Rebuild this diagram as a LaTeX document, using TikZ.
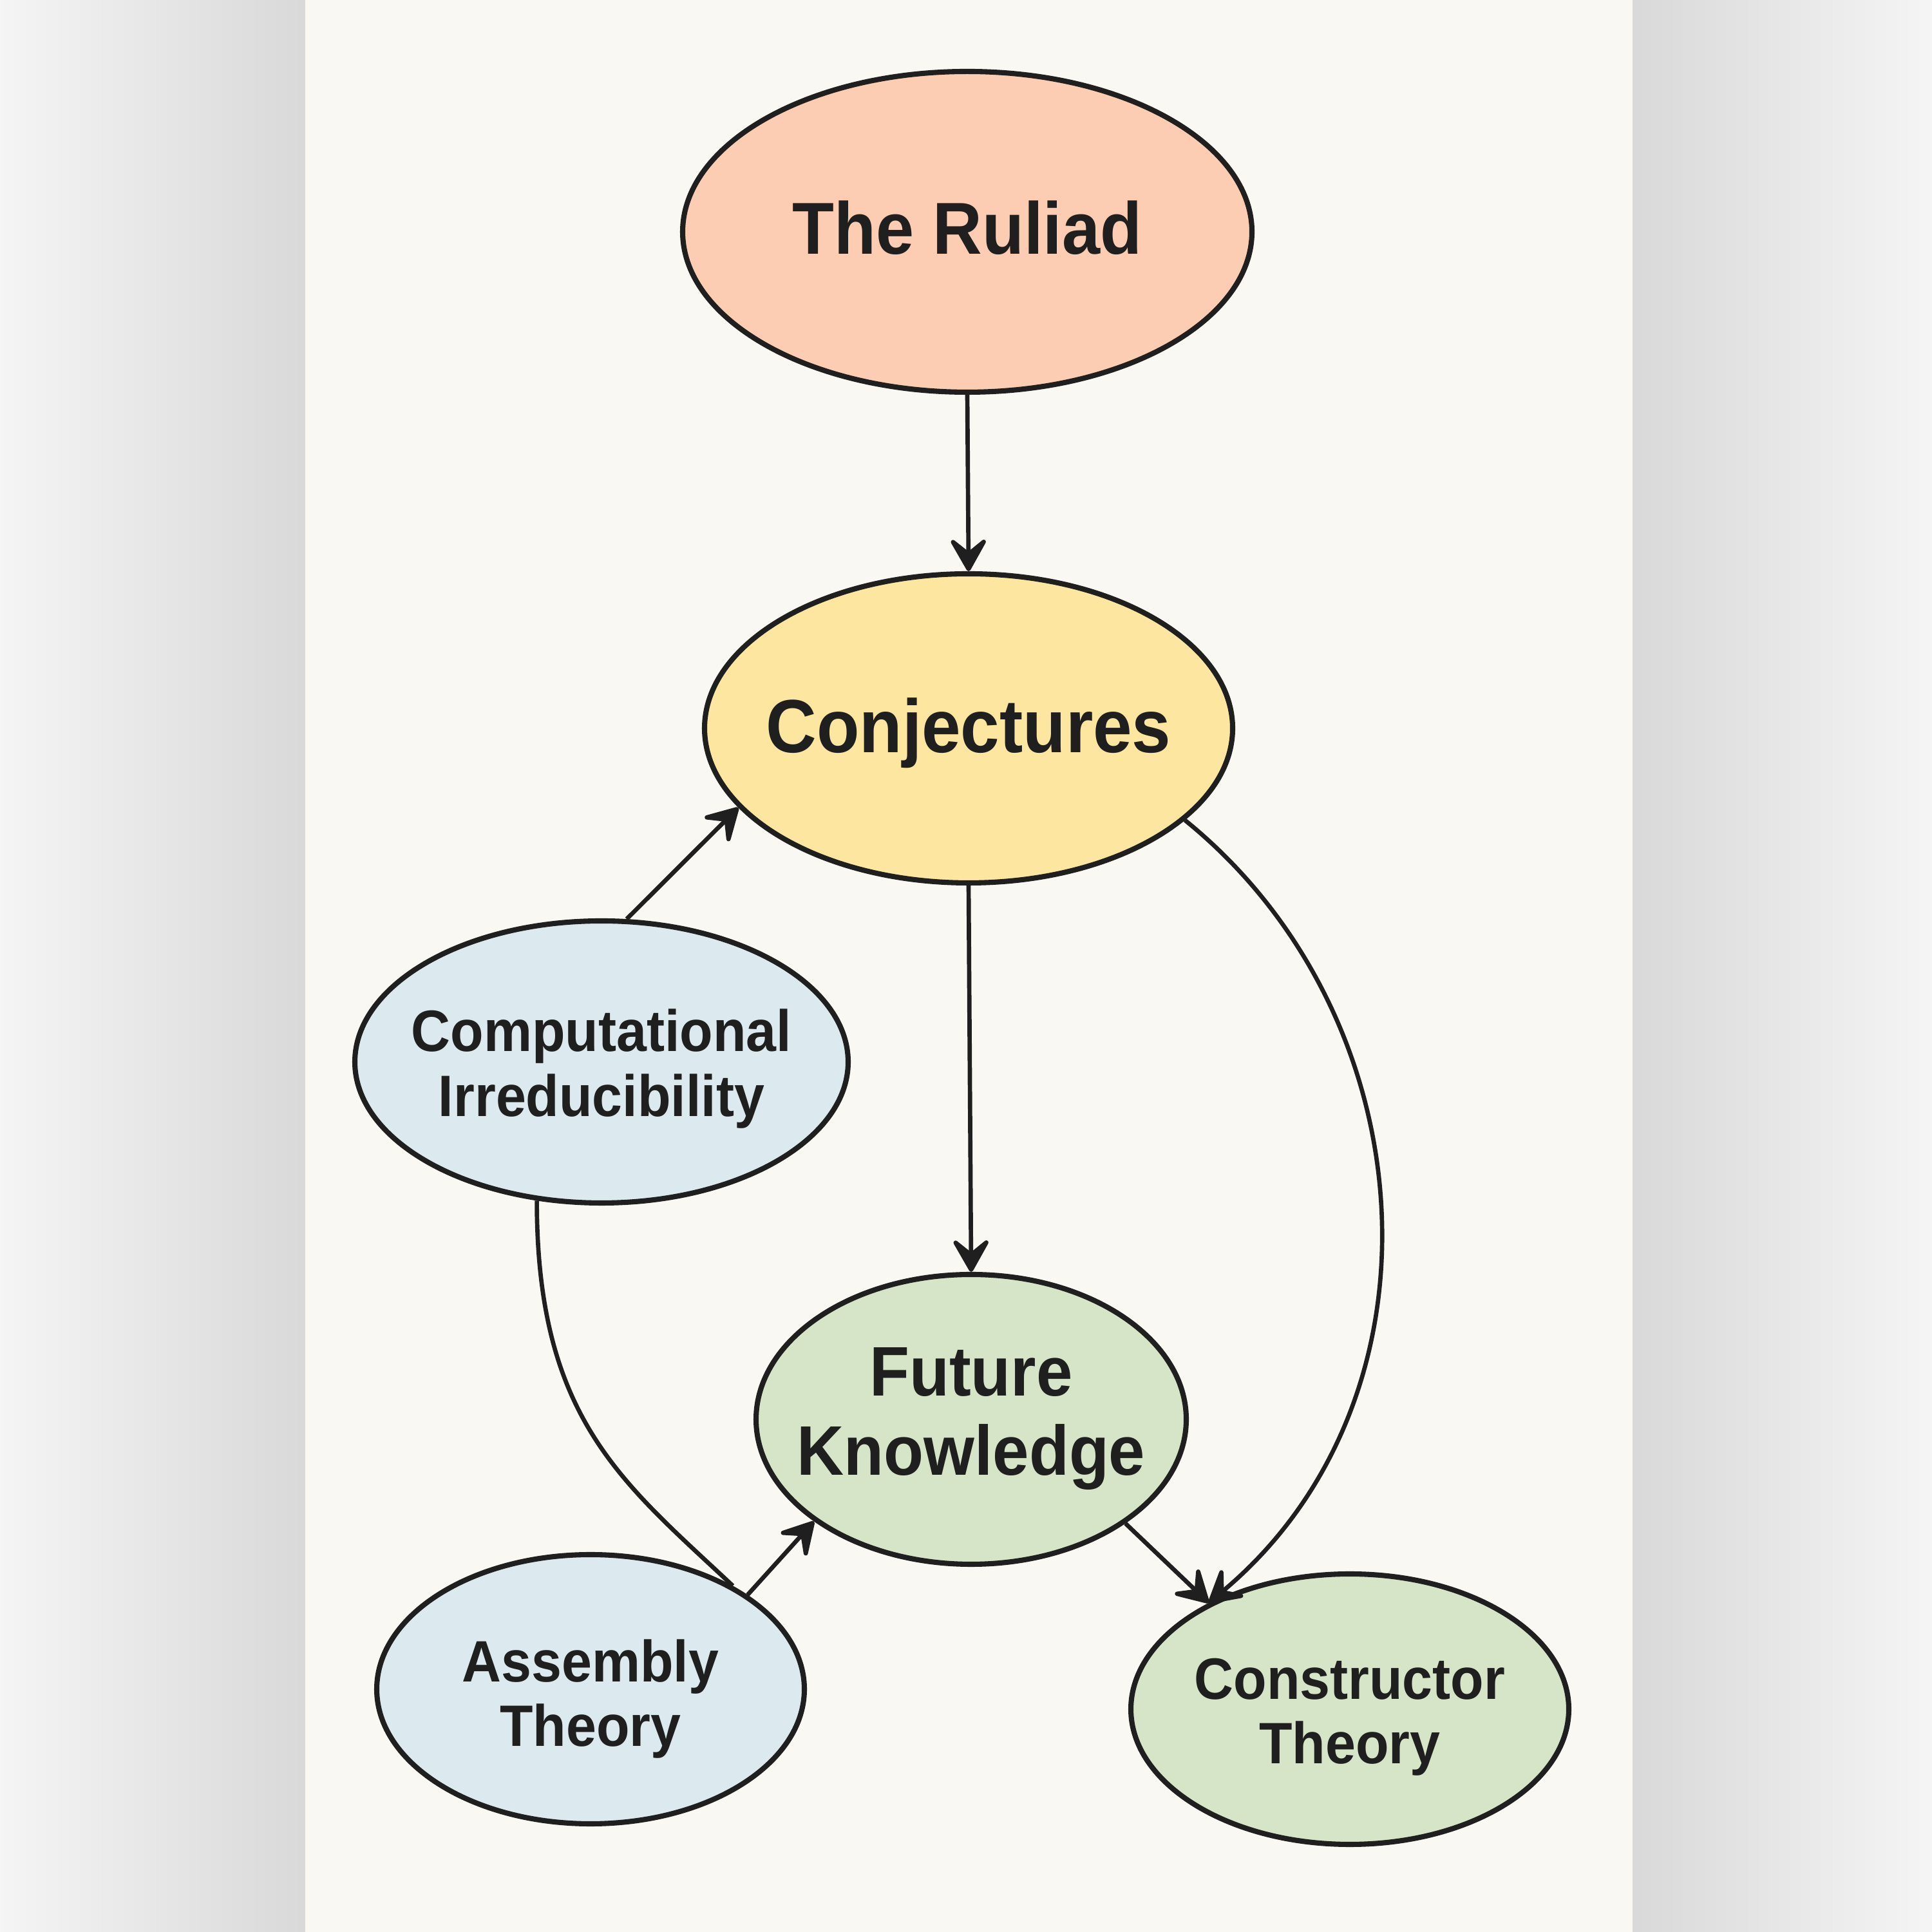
\documentclass[tikz,border=0pt]{standalone}
\usepackage{fontspec}
\setmainfont{Liberation Sans}[FakeStretch=0.93]
\usetikzlibrary{arrows.meta,shapes.geometric}

\definecolor{paper}{HTML}{FAF8F3}
\definecolor{ink}{HTML}{1F1F1F}
\definecolor{peach}{HTML}{FCCDB2}
\definecolor{butter}{HTML}{FDE6A0}
\definecolor{mist}{HTML}{DCE9EE}
\definecolor{sage}{HTML}{D6E4C8}

% text that does not widen its ellipse (optional arg lowers it)
\newcommand{\lbl}[2][-4pt]{\raisebox{#1}[\height][\depth]{\makebox[0pt][c]{\begin{tabular}{@{}c@{}}#2\end{tabular}}}}

\begin{document}
\begin{tikzpicture}[
    bubble/.style={ellipse, draw=ink, line width=2.3pt, inner sep=0pt, text=ink},
    big/.style={font=\fontsize{32.5}{35}\selectfont\bfseries},
    small/.style={font=\fontsize{25.8}{28.5}\selectfont\bfseries},
    link/.style={draw=ink, line width=1.9pt},
    arr/.style={link, -{Stealth[length=6.2mm,width=7mm,inset=2.8mm,round]}}
  ]
    % backdrop: grey margins and the paper sheet
    \useasboundingbox (0,0) rectangle (30,30);
    \shade[left color=gray!8, right color=gray!30] (0,0) rectangle (4.74,30);
    \shade[left color=gray!30, right color=gray!8] (25.35,0) rectangle (30,30);
    \fill[paper] (4.74,0) rectangle (25.35,30);

    % nodes
    \node[bubble, big, fill=peach, minimum width=8.84cm, minimum height=4.98cm] (ruliad) at (15.02,26.40) {\lbl[-2.7pt]{The Ruliad}};
    \node[bubble, fill=butter, minimum width=8.2cm, minimum height=4.8cm, font=\fontsize{33.3}{35}\selectfont\bfseries] (conj) at (15.04,18.69) {\lbl[-3.8pt]{Conjectures}};
    \node[bubble, small, fill=mist, minimum width=7.66cm, minimum height=4.38cm] (comp) at (9.34,13.51) {\lbl{Computational\\Irreducibility}};
    \node[bubble, fill=sage, minimum width=6.68cm, minimum height=4.5cm, font=\fontsize{31}{35}\selectfont\bfseries] (future) at (15.08,7.96) {\lbl[0pt]{Future\\Knowledge}};
    \node[bubble, small, fill=mist, minimum width=6.64cm, minimum height=4.18cm] (assembly) at (9.17,3.77) {\lbl[-5.2pt]{Assembly\\Theory}};
    \node[bubble, small, fill=sage, minimum width=6.8cm, minimum height=4.2cm] (cons) at (20.96,3.46) {\lbl{Constructor\\Theory}};

    % connectors
    \draw[arr] (ruliad.south) -- (conj.north);
    \draw[arr] (conj.south) -- (future.north);
    \draw[arr] (comp.80) -- (conj.199);
    \draw[arr] (assembly.31) -- (future.213);
    \draw[arr] (future.326) -- (cons.143);
    \draw[arr] (conj.337) .. controls +(3.78,-3.06) and +(3.79,3.17) .. (cons.143);
    \draw[link] (comp.245) .. controls +(0,-3.4) and +(-1.7,1.6) .. (assembly.36);
\end{tikzpicture}
\end{document}
